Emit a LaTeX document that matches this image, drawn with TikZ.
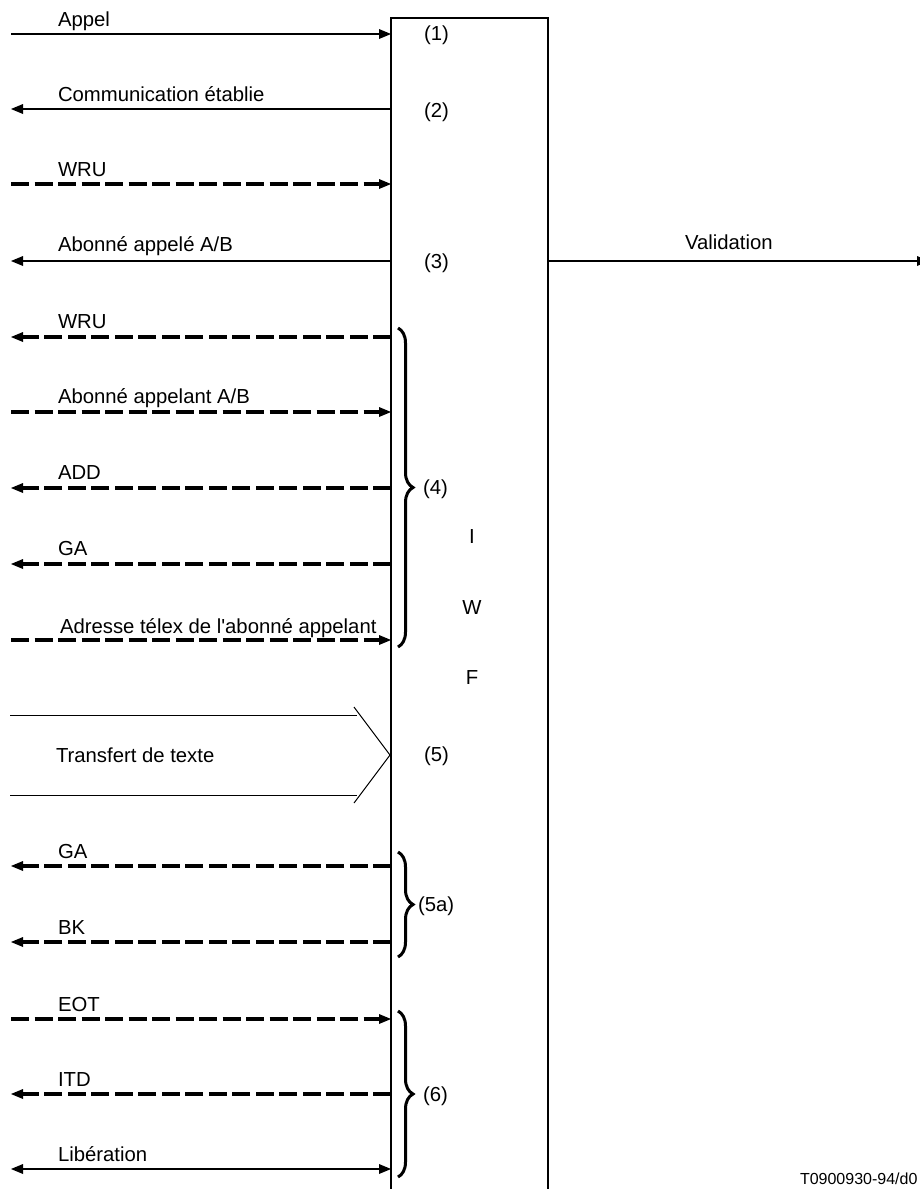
\documentclass[tikz,border=0pt]{standalone}
\usepackage{fontspec}
\newfontfamily\lsans{Liberation Sans}
\usetikzlibrary{arrows.meta,decorations.pathreplacing}
\begin{document}
\begin{tikzpicture}[x=1pt,y=-1pt,
  every node/.style={font=\lsans\fontsize{20.3}{24}\selectfont, inner sep=0pt, outer sep=0pt},
  lbl/.style={anchor=base west},
  num/.style={anchor=west},
  tipT/.tip={Triangle[length=12pt,width=10pt,line width=0pt]},
  solidmsg/.style={line width=1.3pt, -tipT},
  dashmsg/.style={line width=3.4pt, dash pattern=on 18pt off 5.5pt, -tipT},
  boxline/.style={line width=1.3pt},
  brc/.style={decorate, decoration={brace, amplitude=15pt}, line width=3pt},
]
\useasboundingbox (0,0) rectangle (919,1189);

% IWF box
\draw[boxline] (391,1195) -- (391,18) -- (548,18) -- (548,1195);
\node (I) at (472,537) {I};
\node (W) at (472,608) {W};
\node (F) at (472,678) {F};

% endpoints
\foreach \n/\y in {a/34,b/109,c/184,d/261,e/337,f/412,g/488,h/564,i/640,j/866,k/942,l/1019,m/1094,n/1169}{
  \coordinate (L\n) at (11,\y);
  \coordinate (R\n) at (391,\y);
}
\coordinate (Vs) at (548,261);
\coordinate (Ve) at (929,261);

% messages
\draw[solidmsg] (La) -- (Ra);
\node[lbl] (tA) at (58,26) {Appel};
\draw[solidmsg] (Rb) -- (Lb);
\node[lbl] (tB) at (58,101) {Communication établie};
\draw[dashmsg] (Lc) -- (Rc);
\node[lbl] (tC) at (58,176) {WRU};
\draw[solidmsg] (Rd) -- (Ld);
\node[lbl] (tD) at (58,251) {Abonné appelé A/B};
\draw[solidmsg] (Vs) -- (Ve);
\node[lbl] (tV) at (685,249) {Validation};
\draw[dashmsg] (Re) -- (Le);
\node[lbl] (tE) at (58,328) {WRU};
\draw[dashmsg] (Lf) -- (Rf);
\node[lbl] (tF) at (58,403) {Abonné appelant A/B};
\draw[dashmsg] (Rg) -- (Lg);
\node[lbl] (tG) at (58,479) {ADD};
\draw[dashmsg] (Rh) -- (Lh);
\node[lbl] (tH) at (58,555) {GA};
\draw[dashmsg] (Li) -- (Ri);
\node[lbl] (tI) at (60,633) {Adresse télex de l'abonné appelant};

% text transfer
\coordinate (T1s) at (10,715);
\coordinate (T1e) at (357,715);
\coordinate (T2s) at (10,795);
\coordinate (T2e) at (357,795);
\coordinate (Ca) at (354,707);
\coordinate (Cb) at (390,755);
\coordinate (Cc) at (354,803);
\draw[line width=1pt] (T1s) -- (T1e) (T2s) -- (T2e);
\draw[line width=1pt] (Ca) -- (Cb) -- (Cc);
\node[lbl] (tT) at (56,762) {Transfert de texte};

\draw[dashmsg] (Rj) -- (Lj);
\node[lbl] (tJ) at (58,858) {GA};
\draw[dashmsg] (Rk) -- (Lk);
\node[lbl] (tK) at (58,934) {BK};
\draw[dashmsg] (Ll) -- (Rl);
\node[lbl] (tL) at (58,1011) {EOT};
\draw[dashmsg] (Rm) -- (Lm);
\node[lbl] (tM) at (58,1086) {ITD};
\draw[line width=1.3pt, tipT-tipT] (Ln) -- (Rn);
\node[lbl] (tN) at (58,1161) {Libération};

% numbers
\node[num] (n1) at (424,35) {(1)};
\node[num] (n2) at (424,112) {(2)};
\node[num] (n3) at (424,263) {(3)};
\node[num] (n5) at (424,756) {(5)};

% braces
\coordinate (B4a) at (398,328);
\coordinate (B4b) at (398,647);
\coordinate (B5a) at (398,852);
\coordinate (B5b) at (398,957);
\coordinate (B6a) at (398,1011);
\coordinate (B6b) at (398,1177);
\draw[brc] (B4a) -- (B4b);
\draw[brc] (B5a) -- (B5b);
\draw[brc] (B6a) -- (B6b);
\node[num] (n4) at (423,489) {(4)};
\node[num] (n5a) at (418,906) {(5a)};
\node[num] (n6) at (423,1096) {(6)};

% reference code
\node[anchor=base west, font=\lsans\fontsize{16}{19}\selectfont] (ref) at (800,1184) {T0900930-94/d0};
\end{tikzpicture}
\end{document}
